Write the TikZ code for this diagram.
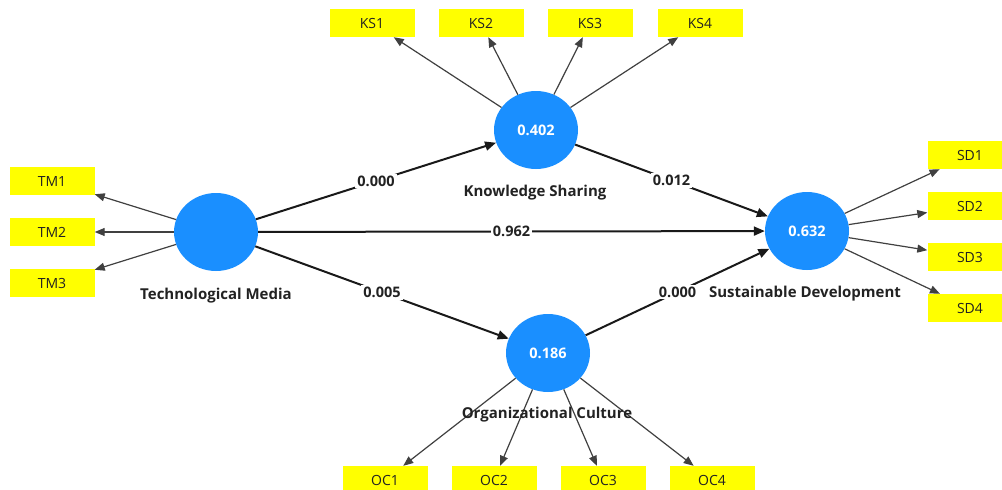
\documentclass[tikz,border=0pt]{standalone}
\usepackage{fontspec}
\setmainfont{Open Sans}
\usetikzlibrary{shapes.geometric,arrows.meta}
\definecolor{lvblue}{HTML}{1A8FFF}
\definecolor{indyellow}{HTML}{FFFF00}
\definecolor{inktext}{HTML}{222222}
\tikzstyle{latent}=[ellipse, fill=lvblue, minimum width=84pt, minimum height=78pt, inner sep=0pt, text=white, font=\bfseries\fontsize{14.5}{16}\selectfont]
\tikzstyle{indicator}=[rectangle, fill=indyellow, minimum width=85pt, minimum height=28pt, inner sep=0pt, text=inktext, font=\fontsize{14}{16}\selectfont]
\tikzstyle{load>}=[draw=black!75, line width=1.2pt, -{Triangle[length=10pt,width=8pt]}]
\tikzstyle{path>}=[draw=black!90, line width=2pt, -{Triangle[length=11pt,width=9pt]}]
\tikzstyle{coef}=[fill=white, inner sep=2pt, text=inktext, font=\bfseries\fontsize{14.5}{16}\selectfont]
\tikzstyle{lvname}=[text=inktext, inner sep=1pt, font=\bfseries\fontsize{15}{17}\selectfont]

\begin{document}
\begin{tikzpicture}[x=1pt,y=-1pt]
\useasboundingbox (0,0) rectangle (1002,490);
\node[latent] (TM) at (216,232) {};
\node[latent] (KS) at (536,130) {0.402};
\node[latent] (SD) at (807,231) {0.632};
\node[latent] (OC) at (548,353) {0.186};
\node[lvname] (TMname) at (216,296) {Technological Media};
\node[lvname] (KSname) at (535,193) {Knowledge Sharing};
\node[lvname] (SDname) at (805,294) {Sustainable Development};
\foreach \i/\y in {1/181,2/232,3/283} {
	\node[indicator] (TM\i) at (52,\y) {TM\i};
	\draw[load>] (TM) -- (TM\i);
}
\foreach \i/\x in {1/372,2/481,3/590,4/700} {
	\node[indicator] (KS\i) at (\x,23) {KS\i};
	\draw[load>] (KS) -- (KS\i);
}
\foreach \i/\y in {1/155,2/206,3/257,4/308} {
	\node[indicator] (SD\i) at (970,\y) {SD\i};
	\draw[load>] (SD) -- (SD\i);
}
\foreach \i/\x in {1/385,2/494,3/603,4/712} {
	\node[indicator] (OC\i) at (\x,480) {OC\i};
	\draw[load>] (OC) -- (OC\i);
}
\node[lvname] (OCname) at (547,415) {Organizational Culture};
\draw[path>] (TM) -- node[coef] {0.000} (KS);
\draw[path>] (KS) -- node[coef] {0.012} (SD);
\draw[path>] (TM) -- node[coef] {0.962} (SD);
\draw[path>] (TM) -- node[coef] {0.005} (OC);
\draw[path>] (OC) -- node[coef] {0.000} (SD);
\end{tikzpicture}
\end{document}
